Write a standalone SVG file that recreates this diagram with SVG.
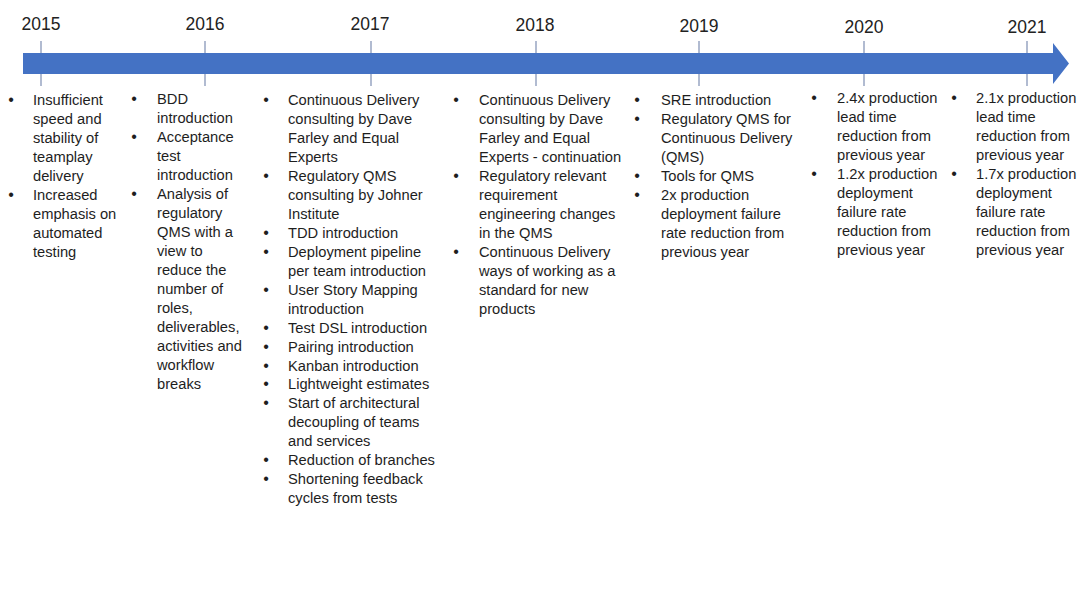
<svg xmlns="http://www.w3.org/2000/svg" width="1080" height="608" viewBox="0 0 1080 608">
<style>
.yr{font-family:"Liberation Sans",Arial,sans-serif;font-size:17.5px;fill:#222;text-anchor:middle}
.t{font-family:"Liberation Sans",Arial,sans-serif;font-size:14.7px;fill:#1e1e1e}
.b{font-family:"Liberation Sans",Arial,sans-serif;font-size:16px;fill:#1e1e1e;text-anchor:middle}
.tick{stroke:#8797b8;stroke-width:1.3}
</style>
<rect width="1080" height="608" fill="#ffffff"/>
<g id="connectors">
<line class="tick" x1="41" y1="41" x2="41" y2="86"/>
<line class="tick" x1="205" y1="41" x2="205" y2="86"/>
<line class="tick" x1="371" y1="41" x2="371" y2="86"/>
<line class="tick" x1="536" y1="41" x2="536" y2="86"/>
<line class="tick" x1="699" y1="41" x2="699" y2="86"/>
<line class="tick" x1="864" y1="41" x2="864" y2="86"/>
<line class="tick" x1="1027" y1="41" x2="1027" y2="86"/>
<polygon id="timeline" points="23,53 1053,53 1053,43 1069,63.5 1053,84 1053,74 23,74" fill="#4472c4"/>
</g>
<g id="years">
<text class="yr" x="41" y="30">2015</text>
<text class="yr" x="205" y="30">2016</text>
<text class="yr" x="370" y="30">2017</text>
<text class="yr" x="535" y="31">2018</text>
<text class="yr" x="699" y="32">2019</text>
<text class="yr" x="864" y="33">2020</text>
<text class="yr" x="1027" y="33">2021</text>
</g>
<g id="y2015">
<text class="b" x="11" y="105">•</text>
<text class="b" x="11" y="200">•</text>
<text class="t" x="33" y="105">Insufficient</text>
<text class="t" x="33" y="124">speed and</text>
<text class="t" x="33" y="143">stability of</text>
<text class="t" x="33" y="162">teamplay</text>
<text class="t" x="33" y="181">delivery</text>
<text class="t" x="33" y="200">Increased</text>
<text class="t" x="33" y="219">emphasis on</text>
<text class="t" x="33" y="238">automated</text>
<text class="t" x="33" y="257">testing</text>
</g>
<g id="y2016">
<text class="b" x="134" y="104">•</text>
<text class="b" x="134" y="142">•</text>
<text class="b" x="134" y="199">•</text>
<text class="t" x="157" y="104">BDD</text>
<text class="t" x="157" y="123">introduction</text>
<text class="t" x="157" y="142">Acceptance</text>
<text class="t" x="157" y="161">test</text>
<text class="t" x="157" y="180">introduction</text>
<text class="t" x="157" y="199">Analysis of</text>
<text class="t" x="157" y="218">regulatory</text>
<text class="t" x="157" y="237">QMS with a</text>
<text class="t" x="157" y="256">view to</text>
<text class="t" x="157" y="275">reduce the</text>
<text class="t" x="157" y="294">number of</text>
<text class="t" x="157" y="313">roles,</text>
<text class="t" x="157" y="332">deliverables,</text>
<text class="t" x="157" y="351">activities and</text>
<text class="t" x="157" y="370">workflow</text>
<text class="t" x="157" y="389">breaks</text>
</g>
<g id="y2017">
<text class="b" x="266" y="105">•</text>
<text class="b" x="266" y="181">•</text>
<text class="b" x="266" y="238">•</text>
<text class="b" x="266" y="257">•</text>
<text class="b" x="266" y="295">•</text>
<text class="b" x="266" y="333">•</text>
<text class="b" x="266" y="352">•</text>
<text class="b" x="266" y="371">•</text>
<text class="b" x="266" y="389">•</text>
<text class="b" x="266" y="408">•</text>
<text class="b" x="266" y="465">•</text>
<text class="b" x="266" y="484">•</text>
<text class="t" x="288" y="105">Continuous Delivery</text>
<text class="t" x="288" y="124">consulting by Dave</text>
<text class="t" x="288" y="143">Farley and Equal</text>
<text class="t" x="288" y="162">Experts</text>
<text class="t" x="288" y="181">Regulatory QMS</text>
<text class="t" x="288" y="200">consulting by Johner</text>
<text class="t" x="288" y="219">Institute</text>
<text class="t" x="288" y="238">TDD introduction</text>
<text class="t" x="288" y="257">Deployment pipeline</text>
<text class="t" x="288" y="276">per team introduction</text>
<text class="t" x="288" y="295">User Story Mapping</text>
<text class="t" x="288" y="314">introduction</text>
<text class="t" x="288" y="333">Test DSL introduction</text>
<text class="t" x="288" y="352">Pairing introduction</text>
<text class="t" x="288" y="371">Kanban introduction</text>
<text class="t" x="288" y="389">Lightweight estimates</text>
<text class="t" x="288" y="408">Start of architectural</text>
<text class="t" x="288" y="427">decoupling of teams</text>
<text class="t" x="288" y="446">and services</text>
<text class="t" x="288" y="465">Reduction of branches</text>
<text class="t" x="288" y="484">Shortening feedback</text>
<text class="t" x="288" y="503">cycles from tests</text>
</g>
<g id="y2018">
<text class="b" x="456" y="105">•</text>
<text class="b" x="456" y="181">•</text>
<text class="b" x="456" y="257">•</text>
<text class="t" x="479" y="105">Continuous Delivery</text>
<text class="t" x="479" y="124">consulting by Dave</text>
<text class="t" x="479" y="143">Farley and Equal</text>
<text class="t" x="479" y="162">Experts - continuation</text>
<text class="t" x="479" y="181">Regulatory relevant</text>
<text class="t" x="479" y="200">requirement</text>
<text class="t" x="479" y="219">engineering changes</text>
<text class="t" x="479" y="238">in the QMS</text>
<text class="t" x="479" y="257">Continuous Delivery</text>
<text class="t" x="479" y="276">ways of working as a</text>
<text class="t" x="479" y="295">standard for new</text>
<text class="t" x="479" y="314">products</text>
</g>
<g id="y2019">
<text class="b" x="637" y="105">•</text>
<text class="b" x="637" y="124">•</text>
<text class="b" x="637" y="181">•</text>
<text class="b" x="637" y="200">•</text>
<text class="t" x="661" y="105">SRE introduction</text>
<text class="t" x="661" y="124">Regulatory QMS for</text>
<text class="t" x="661" y="143">Continuous Delivery</text>
<text class="t" x="661" y="162">(QMS)</text>
<text class="t" x="661" y="181">Tools for QMS</text>
<text class="t" x="661" y="200">2x production</text>
<text class="t" x="661" y="219">deployment failure</text>
<text class="t" x="661" y="238">rate reduction from</text>
<text class="t" x="661" y="257">previous year</text>
</g>
<g id="y2020">
<text class="b" x="814" y="103">•</text>
<text class="b" x="814" y="179">•</text>
<text class="t" x="837" y="103">2.4x production</text>
<text class="t" x="837" y="122">lead time</text>
<text class="t" x="837" y="141">reduction from</text>
<text class="t" x="837" y="160">previous year</text>
<text class="t" x="837" y="179">1.2x production</text>
<text class="t" x="837" y="198">deployment</text>
<text class="t" x="837" y="217">failure rate</text>
<text class="t" x="837" y="236">reduction from</text>
<text class="t" x="837" y="255">previous year</text>
</g>
<g id="y2021">
<text class="b" x="954" y="103">•</text>
<text class="b" x="954" y="179">•</text>
<text class="t" x="976" y="103">2.1x production</text>
<text class="t" x="976" y="122">lead time</text>
<text class="t" x="976" y="141">reduction from</text>
<text class="t" x="976" y="160">previous year</text>
<text class="t" x="976" y="179">1.7x production</text>
<text class="t" x="976" y="198">deployment</text>
<text class="t" x="976" y="217">failure rate</text>
<text class="t" x="976" y="236">reduction from</text>
<text class="t" x="976" y="255">previous year</text>
</g>
</svg>
